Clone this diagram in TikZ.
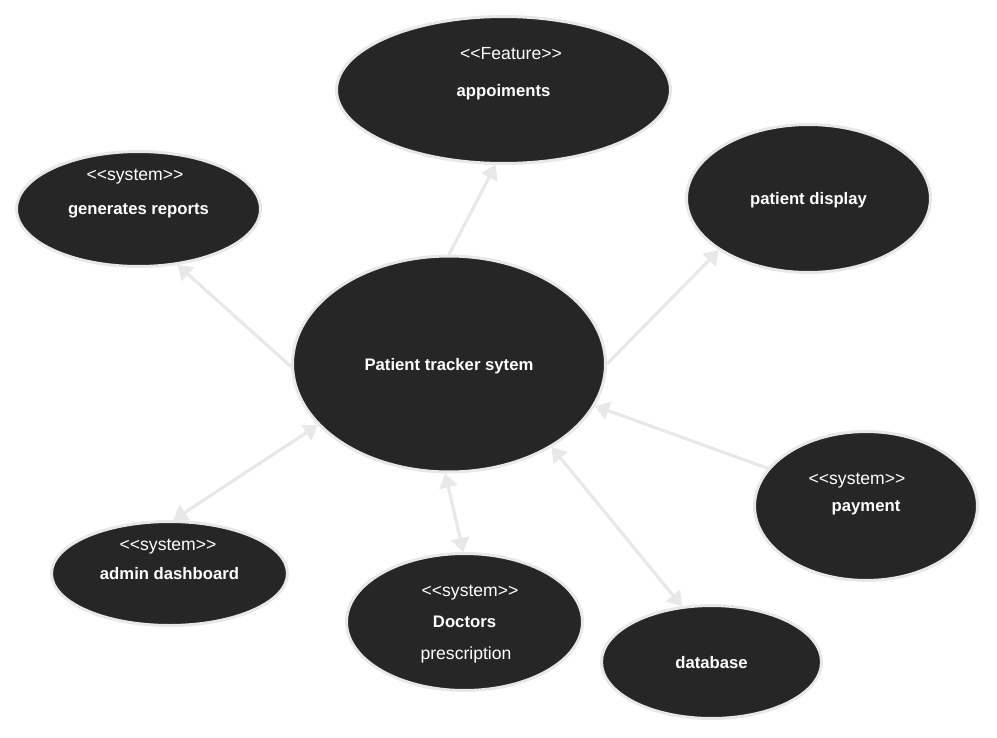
\documentclass[tikz,border=0pt]{standalone}
\usepackage{fontspec}
\setmainfont{Liberation Sans}
\usetikzlibrary{shapes.geometric,arrows.meta,calc}
\definecolor{ucfill}{HTML}{262626}
\definecolor{ucline}{HTML}{E8E8E8}
\newcommand{\stereotype}[1]{<\kern0pt<#1>\kern0pt>}

\begin{document}
\begin{tikzpicture}[x=0.02cm,y=-0.02cm,
  usecase/.style={ellipse,draw=ucline,line width=1.7pt,fill=ucfill,text=white,
    inner sep=0pt,text depth=0pt,font=\fontsize{9.5}{11}\selectfont\bfseries},
  stereo/.style={text=white,inner sep=0pt,text depth=0pt,font=\fontsize{10}{12}\selectfont},
  tip/.tip={Triangle[length=0.28cm,width=0.36cm]},
  link/.style={draw=ucline,line width=1.8pt,-tip},
  dlink/.style={link,tip-tip}]

\useasboundingbox (0,0) rectangle (997,737);

% use cases
\node[usecase,minimum width=6.26cm,minimum height=4.32cm] (pts) at (449,364) {Patient tracker sytem};
\node[usecase,minimum width=6.68cm,minimum height=2.94cm] (app) at (503.5,90) {appoiments};
\node[usecase,minimum width=4.88cm,minimum height=2.30cm] (gen) at (138.5,209) {generates reports};
\node[usecase,minimum width=4.88cm,minimum height=2.96cm] (pd) at (808.5,198.5) {patient display};
\node[usecase,minimum width=4.46cm,minimum height=2.98cm] (pay) at (866,506) {payment};
\node[usecase,minimum width=4.72cm,minimum height=2.08cm] (adm) at (169.5,573.5) {admin dashboard};
\node[usecase,minimum width=4.72cm,minimum height=2.74cm] (doc) at (464.5,622) {Doctors};
\node[usecase,minimum width=4.40cm,minimum height=2.26cm] (db) at (711.5,662) {database};

% stereotypes
\node[stereo] (app-st) at ($(app)+(7.5,-36.5)$) {\stereotype{Feature}};
\node[stereo] (gen-st) at ($(gen)+(-3.5,-34.5)$) {\stereotype{system}};
\node[stereo] (pay-st) at ($(pay)+(-9,-27.5)$) {\stereotype{system}};
\node[stereo] (adm-st) at ($(adm)+(-1.5,-29)$) {\stereotype{system}};
\node[stereo] (doc-st) at ($(doc)+(5.5,-31)$) {\stereotype{system}};
\node[stereo] (doc-sub) at ($(doc)+(1.5,31)$) {prescription};

% links
\draw[link] (pts.north) -- (app.264);
\draw[link] (pts.181) -- (gen.305);
\draw[link] (pts.east) -- (pd.210);
\draw[link] (pay.159) -- (pts.344);
\draw[dlink] (adm.86) -- (pts.205);
\draw[dlink] (doc.91) -- (pts.268);
\draw[dlink] (db.118) -- (pts.321);
\end{tikzpicture}
\end{document}
